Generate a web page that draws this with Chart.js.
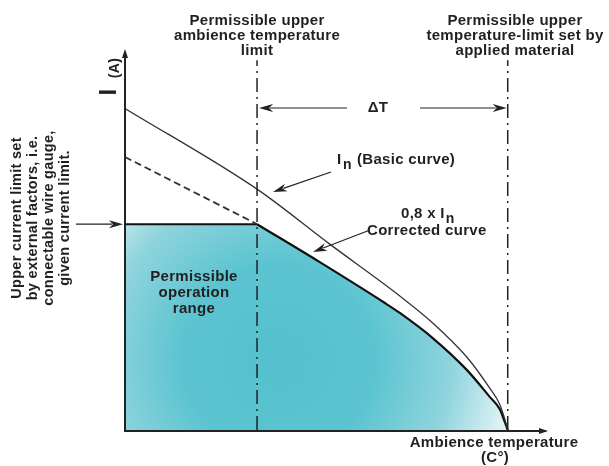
<!DOCTYPE html>
<html>
<head>
<meta charset="utf-8">
<script src="https://cdn.jsdelivr.net/npm/chart.js@4"></script>
<style>
  html, body { margin: 0; padding: 0; background: #fff; }
  #wrap { width: 609px; height: 466px; position: relative; }
</style>
</head>
<body>
<div id="wrap"><canvas id="derating"></canvas></div>
<script>
// ambience temperature (0 = start of axis, 100 = material limit), current in % of In
const basicTemp    = [0, 34.5, 53.5, 71.8, 80.4, 89.3, 95.3, 97.9, 99.2, 100];
const basicCurrent = [100, 74.9, 57.8, 41.7, 33.3, 22.7, 13.0, 8.0, 3.5, 0];

const correctedTemp    = [34.5, 50.9, 67.9, 71.8, 80.4, 89.3, 95.3, 97.9, 99.2, 100];
const correctedCurrent = [64, 52.2, 39.5, 36.4, 28.6, 18.7, 10.3, 6.5, 2.6, 0];

const deratedTemp    = [0, 34.5];
const deratedCurrent = [84.9, 64];

const limitTemp    = [0, 34.5];
const limitCurrent = [64, 64];

const ambienceLimit = 34.5;
const materialLimit = 100;
const markerTop = 115;

const textColor = '#231f20';
const fontName = '"Liberation Sans", Arial, sans-serif';
const labelFont = 'bold 15px ' + fontName;

function toPoints(xs, ys) {
  return xs.map((x, i) => ({ x: x, y: ys[i] }));
}

// teal fill, lighter towards the edges
function tealFill(context) {
  const chart = context.chart;
  if (!chart.chartArea) return '#5bc4d0';
  const cx = chart.scales.x.getPixelForValue(40);
  const cy = chart.scales.y.getPixelForValue(22);
  const g = chart.ctx.createRadialGradient(cx, cy, 0, cx, cy, 240);
  g.addColorStop(0, '#55c1ce');
  g.addColorStop(0.4, '#5bc4d0');
  g.addColorStop(0.72, '#8fd4dd');
  g.addColorStop(1, '#e8f6f8');
  return g;
}

function arrow(ctx, x1, y1, x2, y2) {
  const ang = Math.atan2(y2 - y1, x2 - x1);
  const len = 14, half = 4;
  ctx.beginPath();
  ctx.moveTo(x1, y1);
  ctx.lineTo(x2 - Math.cos(ang) * (len - 3), y2 - Math.sin(ang) * (len - 3));
  ctx.stroke();
  ctx.save();
  ctx.translate(x2, y2);
  ctx.rotate(ang);
  ctx.beginPath();
  ctx.moveTo(0, 0);
  ctx.lineTo(-len, -half);
  ctx.lineTo(-len + 4, 0);
  ctx.lineTo(-len, half);
  ctx.closePath();
  ctx.fill();
  ctx.restore();
}

const annotations = {
  id: 'annotations',
  afterDraw(chart) {
    const ctx = chart.ctx;
    const x = chart.scales.x, y = chart.scales.y;
    const x0 = x.getPixelForValue(0), y0 = y.getPixelForValue(0);
    ctx.save();
    ctx.strokeStyle = '#222';
    ctx.fillStyle = '#222';

    // axes
    ctx.lineWidth = 2;
    ctx.beginPath();
    ctx.moveTo(x0, y0 + 1);
    ctx.lineTo(x0, 52);
    ctx.moveTo(x0 - 1, y0 + 1);
    ctx.lineTo(x.getPixelForValue(110), y0 + 1);
    ctx.stroke();
    ctx.beginPath();
    ctx.moveTo(x0, 49); ctx.lineTo(x0 - 3, 58); ctx.lineTo(x0 + 3, 58);
    ctx.closePath(); ctx.fill();
    const xe = x.getPixelForValue(110);
    ctx.beginPath();
    ctx.moveTo(xe + 2, y0 + 1); ctx.lineTo(xe - 7, y0 - 2); ctx.lineTo(xe - 7, y0 + 4);
    ctx.closePath(); ctx.fill();

    // arrows
    ctx.lineWidth = 1.2;
    const xa = x.getPixelForValue(ambienceLimit), xm = x.getPixelForValue(materialLimit);
    arrow(ctx, 347, 108, xa + 2, 108);
    arrow(ctx, 420, 108, xm - 1, 108);
    arrow(ctx, 76, y.getPixelForValue(64), x0 - 2, y.getPixelForValue(64));
    arrow(ctx, 331, 172, 273, 192);
    arrow(ctx, 370, 230, 313, 252);

    // texts
    ctx.fillStyle = textColor;
    ctx.letterSpacing = '0.3px';
    ctx.textAlign = 'center';
    ctx.textBaseline = 'middle';
    ctx.font = labelFont;
    ['Permissible upper', 'ambience temperature', 'limit'].forEach((t, i) => ctx.fillText(t, xa, 21 + i * 15));
    ['Permissible upper', 'temperature-limit set by', 'applied material'].forEach((t, i) => ctx.fillText(t, 515, 21 + i * 15));
    ['Permissible', 'operation', 'range'].forEach((t, i) => ctx.fillText(t, 194, 277 + i * 16));
    ctx.fillText('Ambience temperature', 494, 443);
    ctx.fillText('(C°)', 495, 458);
    ctx.fillText('ΔT', 378, 108);

    ctx.textAlign = 'left';
    ctx.textBaseline = 'alphabetic';
    ctx.fillText('I', 337, 164);
    ctx.fillText('(Basic curve)', 357, 164);
    ctx.fillText('0,8 x I', 401, 218);
    const nx = 401 + ctx.measureText('0,8 x I').width + 1;
    ctx.fillText('Corrected curve', 367, 235);
    ctx.font = 'bold 14px ' + fontName;
    ctx.fillText('n', 343, 169);
    ctx.fillText('n', nx, 223);

    // rotated texts
    ctx.save();
    ctx.translate(17, 218);
    ctx.rotate(-Math.PI / 2);
    ctx.textAlign = 'center';
    ctx.textBaseline = 'middle';
    ctx.font = 'bold 14.5px ' + fontName;
    ['Upper current limit set', 'by external factors, i.e.', 'connectable wire gauge,', 'given current limit.']
      .forEach((t, i) => ctx.fillText(t, 0, i * 16));
    ctx.restore();

    ctx.save();
    ctx.translate(116, 92);
    ctx.rotate(-Math.PI / 2);
    ctx.textAlign = 'center';
    ctx.font = 'bold 24px ' + fontName;
    ctx.fillText('I', 0, 0);
    ctx.restore();

    ctx.save();
    ctx.translate(119, 68);
    ctx.rotate(-Math.PI / 2);
    ctx.textAlign = 'center';
    ctx.font = 'bold 14px ' + fontName;
    ctx.fillText('(A)', 0, 0);
    ctx.restore();

    ctx.restore();
  }
};

const dashDot = [14, 5, 2, 5];

new Chart(document.getElementById('derating'), {
  type: 'line',
  data: {
    datasets: [
      {
        data: toPoints(basicTemp, basicCurrent),
        borderColor: '#333', borderWidth: 1.3,
        cubicInterpolationMode: 'monotone', order: 1
      },
      {
        data: toPoints(correctedTemp, correctedCurrent),
        borderColor: '#111', borderWidth: 2.2,
        fill: 'origin', backgroundColor: tealFill,
        cubicInterpolationMode: 'monotone', order: 2
      },
      {
        data: toPoints(limitTemp, limitCurrent),
        borderColor: '#111', borderWidth: 2,
        fill: 'origin', backgroundColor: tealFill, order: 3
      },
      {
        data: toPoints(deratedTemp, deratedCurrent),
        borderColor: '#333', borderWidth: 1.8, borderDash: [7, 4], order: 1
      },
      {
        data: [{ x: ambienceLimit, y: 0 }, { x: ambienceLimit, y: markerTop }],
        borderColor: '#222', borderWidth: 1.5, borderDash: dashDot, order: 0
      },
      {
        data: [{ x: materialLimit, y: 0 }, { x: materialLimit, y: markerTop }],
        borderColor: '#222', borderWidth: 1.5, borderDash: dashDot, order: 0
      }
    ]
  },
  options: {
    responsive: true,
    maintainAspectRatio: false,
    animation: false,
    layout: { padding: { left: 125, right: 63, top: 57, bottom: 36 } },
    elements: { point: { radius: 0 } },
    scales: {
      x: { type: 'linear', min: 0, max: 110, display: false },
      y: { min: 0, max: 116, display: false }
    },
    plugins: {
      legend: { display: false },
      tooltip: { enabled: false }
    }
  },
  plugins: [annotations]
});
</script>
</body>
</html>
